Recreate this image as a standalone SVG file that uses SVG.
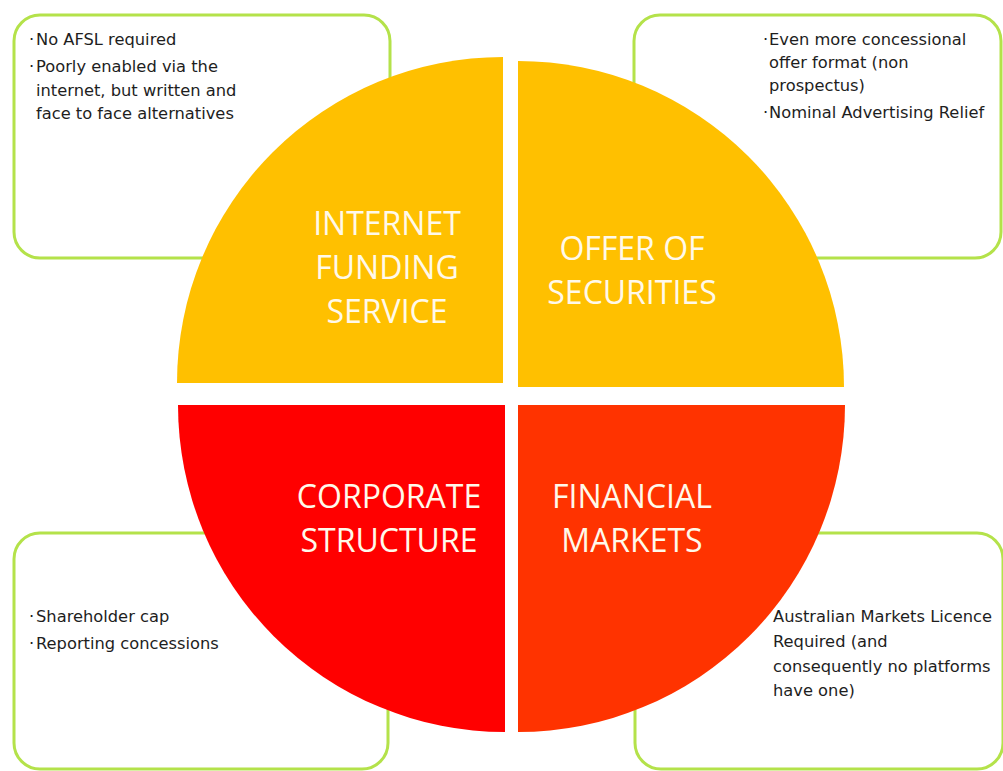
<svg xmlns="http://www.w3.org/2000/svg" width="1003" height="771" viewBox="0 0 1003 771">
<style>
.box{fill:#ffffff;stroke:#b4e24a;stroke-width:3}
.body{font-family:"DejaVu Sans",Verdana,sans-serif;font-size:16.3px;fill:#1e1e1e}
.title{font-family:"Open Sans","Liberation Sans",sans-serif;font-size:32px;fill:#fff9ea;text-anchor:middle}
.yellow{fill:#ffc000}
.red{fill:#ff0000}
.orange{fill:#ff3300}
</style>
<rect width="1003" height="771" fill="#ffffff"/>
<g id="box-internet">
<rect class="box" x="14" y="15" width="376" height="243" rx="26"/>
<text class="body"><tspan x="29" y="45">·</tspan><tspan x="36" y="45">No AFSL required</tspan></text>
<text class="body"><tspan x="29" y="72">·</tspan><tspan x="36" y="72">Poorly enabled via the</tspan><tspan x="36" y="96">internet, but written and</tspan><tspan x="36" y="119">face to face alternatives</tspan></text>
</g>
<g id="box-offer">
<rect class="box" x="634" y="15" width="367" height="243" rx="26"/>
<text class="body"><tspan x="763" y="45">·</tspan><tspan x="769" y="45">Even more concessional</tspan><tspan x="769" y="68">offer format (non</tspan><tspan x="769" y="91">prospectus)</tspan></text>
<text class="body"><tspan x="763" y="118">·</tspan><tspan x="769" y="118">Nominal Advertising Relief</tspan></text>
</g>
<g id="box-corporate">
<rect class="box" x="14" y="533" width="374" height="236" rx="26"/>
<text class="body"><tspan x="29" y="622">·</tspan><tspan x="36" y="622">Shareholder cap</tspan></text>
<text class="body"><tspan x="29" y="649">·</tspan><tspan x="36" y="649">Reporting concessions</tspan></text>
</g>
<g id="box-markets">
<rect class="box" x="635" y="533" width="368" height="236" rx="26"/>
<text class="body"><tspan x="773" y="622">Australian Markets Licence</tspan><tspan x="773" y="647">Required (and</tspan><tspan x="773" y="672">consequently no platforms</tspan><tspan x="773" y="696">have one)</tspan></text>
</g>
<g id="q-internet">
<path class="yellow" d="M503,383 L177,383 A326,326 0 0 1 503,57 Z"/>
<text class="title"><tspan x="387" y="235">INTERNET</tspan><tspan x="387" y="279">FUNDING</tspan><tspan x="387" y="323">SERVICE</tspan></text>
</g>
<g id="q-offer">
<path class="yellow" d="M518,387 L518,61 A326,326 0 0 1 844,387 Z"/>
<text class="title"><tspan x="632" y="260">OFFER OF</tspan><tspan x="632" y="304">SECURITIES</tspan></text>
</g>
<g id="q-corporate">
<path class="red" d="M505,405 L505,732 A327,327 0 0 1 178,405 Z"/>
<text class="title"><tspan x="389" y="508">CORPORATE</tspan><tspan x="389" y="552">STRUCTURE</tspan></text>
</g>
<g id="q-markets">
<path class="orange" d="M518,405 L845,405 A327,327 0 0 1 518,732 Z"/>
<text class="title"><tspan x="632" y="508">FINANCIAL</tspan><tspan x="632" y="552">MARKETS</tspan></text>
</g>
</svg>
